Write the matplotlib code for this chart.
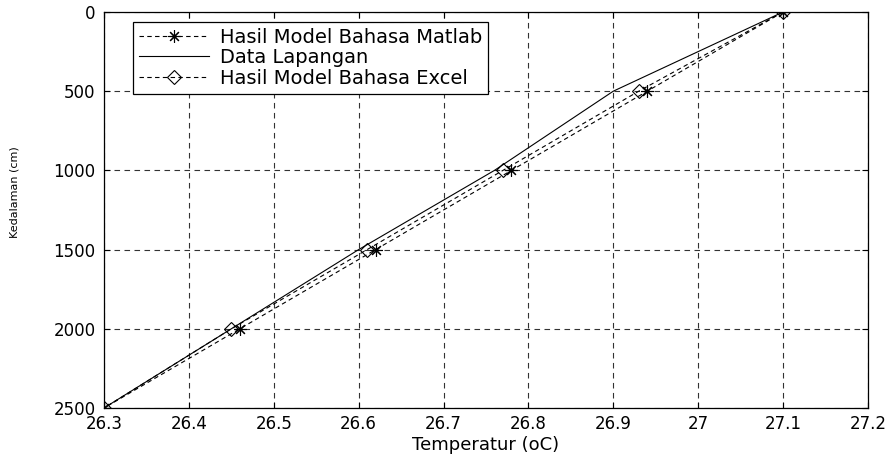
import matplotlib
matplotlib.use("Agg")
import matplotlib.pyplot as plt

depth = [0, 500, 1000, 1500, 2000, 2500]
temp_matlab = [27.1, 26.94, 26.78, 26.62, 26.46, 26.3]
temp_lapangan = [27.1, 26.9, 26.76, 26.6, 26.45, 26.3]
temp_excel = [27.1, 26.93, 26.77, 26.61, 26.45, 26.3]
xticks = [26.3, 26.4, 26.5, 26.6, 26.7, 26.8, 26.9, 27.0, 27.1, 27.2]
xticklabels = ['26.3', '26.4', '26.5', '26.6', '26.7', '26.8', '26.9', '27', '27.1', '27.2']
yticks = [0, 500, 1000, 1500, 2000, 2500]

plt.rcParams['font.family'] = ['DejaVu Sans']

fig = plt.figure(figsize=(8.92, 4.54), dpi=100)
ax = fig.add_axes([0.1166, 0.1013, 0.973 - 0.1166, 0.9736 - 0.1013])

ax.plot(temp_matlab, depth, color='black', linestyle=(0, (4, 3)), linewidth=0.8,
        marker=(8, 2, 0), markersize=9, markeredgewidth=0.8, label='Hasil Model Bahasa Matlab')
ax.plot(temp_lapangan, depth, color='black', linestyle='-', linewidth=0.8,
        label='Data Lapangan')
ax.plot(temp_excel, depth, color='black', linestyle=(0, (4, 3)), linewidth=0.8,
        marker='D', markersize=7, markerfacecolor='none', markeredgewidth=0.8,
        label='Hasil Model Bahasa Excel')

ax.set_xlim(26.3, 27.2)
ax.set_ylim(2500, 0)
ax.set_xticks(xticks)
ax.set_xticklabels(xticklabels)
ax.set_yticks(yticks)
ax.tick_params(direction='in', length=4, labelsize=12, top=True, right=True, width=0.8)
ax.tick_params(axis='x', pad=5)
ax.tick_params(axis='y', pad=6)
ax.grid(True, color='#333333', linestyle=(0, (5, 4)), linewidth=0.8)
for s in ax.spines.values():
    s.set_linewidth(0.9)

ax.set_xlabel('Temperatur (oC)', fontsize=13, labelpad=2)
ax.set_ylabel('Kedalaman (cm)', fontsize=8)
ax.yaxis.set_label_coords(-0.111, 0.545)

leg = ax.legend(loc='upper left', bbox_to_anchor=(0.038, 0.975), fontsize=14,
                frameon=True, fancybox=False, framealpha=1, edgecolor='black',
                handlelength=3.6, borderpad=0.3, labelspacing=0.08, handletextpad=0.55,
                borderaxespad=0)
leg.get_frame().set_linewidth(0.9)

fig.savefig('out.png', dpi=100)
